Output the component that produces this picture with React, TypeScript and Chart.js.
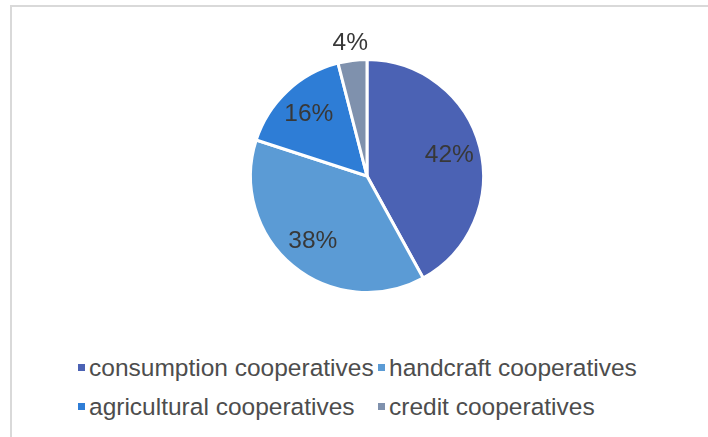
import React, { useEffect, useRef } from "react";
import { Chart, registerables } from "chart.js";

Chart.register(...registerables);

const categories = [
  "consumption cooperatives",
  "handcraft cooperatives",
  "agricultural cooperatives",
  "credit cooperatives",
];
const shares = [42, 38, 16, 4];
const sliceColors = ["#4b62b4", "#5b9bd5", "#2e7dd6", "#7f91ad"];

const FONT = '"Liberation Sans", Arial, sans-serif';

const labelPlugin = {
  id: "sliceLabels",
  afterDatasetsDraw(chart: any) {
    const ctx = chart.ctx;
    const meta = chart.getDatasetMeta(0);
    const total = (chart.data.datasets[0].data as number[]).reduce((a, b) => a + b, 0);
    ctx.save();
    ctx.font = `24.5px ${FONT}`;
    ctx.fillStyle = "#383838";
    ctx.textAlign = "center";
    ctx.textBaseline = "middle";
    meta.data.forEach((arc: any, i: number) => {
      const v = chart.data.datasets[0].data[i] as number;
      const { x, y, startAngle, endAngle, outerRadius } = arc.getProps(
        ["x", "y", "startAngle", "endAngle", "outerRadius"],
        true
      );
      const mid = (startAngle + endAngle) / 2;
      const small = v / total < 0.06;
      const r = small ? outerRadius + 17 : outerRadius * 0.73;
      const lx = x + Math.cos(mid) * r;
      const ly = y + Math.sin(mid) * r;
      ctx.fillText(`${Math.round((v / total) * 100)}%`, lx, ly);
    });
    ctx.restore();
  },
};

export default function App() {
  const canvasRef = useRef<HTMLCanvasElement | null>(null);

  useEffect(() => {
    if (!canvasRef.current) return;
    const chart = new Chart(canvasRef.current, {
      type: "pie",
      data: {
        labels: categories,
        datasets: [
          {
            data: shares,
            backgroundColor: sliceColors,
            borderColor: "#ffffff",
            borderWidth: 3,
          },
        ],
      },
      options: {
        responsive: false,
        animation: false,
        layout: { padding: { left: 26, right: 0, top: 58, bottom: 46 } },
        plugins: {
          legend: { display: false },
          tooltip: { enabled: false },
          title: { display: false },
        },
      },
      plugins: [labelPlugin],
    });
    return () => chart.destroy();
  }, []);

  const legendItems = categories.map((c, i) => ({
    label: c,
    color: sliceColors[i],
    left: i % 2 === 0 ? 78 : 378,
    top: i < 2 ? 354 : 393,
  }));

  return (
    <div
      style={{
        position: "fixed",
        left: 0,
        top: 0,
        width: 708,
        height: 437,
        overflow: "hidden",
        background: "#ffffff",
        fontFamily: FONT,
      }}
    >
      <div
        style={{
          position: "absolute",
          left: 10,
          top: 5,
          width: 740,
          height: 480,
          border: "2px solid #d9d9d9",
          boxSizing: "border-box",
        }}
      />
      <canvas
        ref={canvasRef}
        width={708}
        height={340}
        style={{ position: "absolute", left: 0, top: 0, width: 708, height: 340 }}
      />
      {legendItems.map((it) => (
        <div
          key={it.label}
          style={{
            position: "absolute",
            left: it.left,
            top: it.top,
            height: 28,
            lineHeight: "28px",
            fontSize: 24.5,
            color: "#4d4d4d",
            whiteSpace: "nowrap",
          }}
        >
          <span
            style={{
              position: "absolute",
              left: 0,
              top: 10,
              width: 7,
              height: 7,
              background: it.color,
            }}
          />
          <span style={{ position: "absolute", left: 11, top: 0 }}>{it.label}</span>
        </div>
      ))}
    </div>
  );
}
